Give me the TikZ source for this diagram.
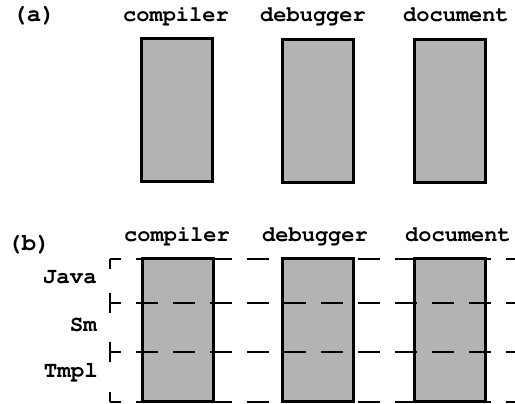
\documentclass[tikz,border=0pt]{standalone}
\usepackage[T1]{fontenc}
\usepackage{courier}
\definecolor{boxgray}{RGB}{179,179,179}
\begin{document}
\begin{tikzpicture}[x=1pt,y=-1pt,
  lbl/.style={font=\ttfamily\bfseries\fontsize{22}{22}\selectfont, inner sep=0pt, anchor=base},
  tag/.style={font=\ttfamily\bfseries\fontsize{24}{24}\selectfont, inner sep=0pt, anchor=base},
  side/.style={font=\ttfamily\bfseries\fontsize{22.5}{22.5}\selectfont, inner sep=0pt, anchor=base east},
  comp/.style={draw=black, fill=boxgray, line width=3pt, rectangle, inner sep=0pt, outer sep=0pt,
               minimum width=71pt, minimum height=143pt},
  hdash/.style={line width=2pt, dash pattern=on 22pt off 15pt, dash phase=11pt},
  vdash/.style={line width=2pt, dash pattern=on 10pt off 24pt on 20pt off 29pt on 20pt off 30pt on 10pt off 100pt}
]
\useasboundingbox (0,0) rectangle (515,404);

% (a)
\node[tag] (ta) at (34,22) {(a)};
\node[lbl] (ha1) at (176,22) {compiler};
\node[lbl] (ha2) at (313,22) {debugger};
\node[lbl] (ha3) at (456,22) {document};
\node[comp] (a1) at (176.5,110.5) {};
\node[comp] (a2) at (317.5,111.5) {};
\node[comp] (a3) at (449.5,111.5) {};

% (b)
\node[tag] (tb) at (29,251) {(b)};
\node[lbl] (hb1) at (177,241) {compiler};
\node[lbl] (hb2) at (315,241) {debugger};
\node[lbl] (hb3) at (458,241) {document};
\node[side] (java) at (97,283) {Java};
\node[side] (sm) at (97,331) {Sm};
\node[side] (tmpl) at (98,377) {Tmpl};
\node[comp] (b1) at (177.5,330) {};
\node[comp] (b2) at (318,330) {};
\node[comp] (b3) at (450,330) {};

\coordinate (l0) at (110,259);
\coordinate (l1) at (110,303);
\coordinate (l2) at (110,352);
\coordinate (l3) at (110,402);
\coordinate (r0) at (518,259);
\coordinate (r1) at (518,303);
\coordinate (r2) at (518,352);
\coordinate (r3) at (518,402);
\draw[hdash] (l0) -- (r0);
\draw[hdash] (l1) -- (r1);
\draw[hdash] (l2) -- (r2);
\draw[hdash] (l3) -- (r3);
\draw[vdash] (l0) -- (l3);
\end{tikzpicture}
\end{document}
